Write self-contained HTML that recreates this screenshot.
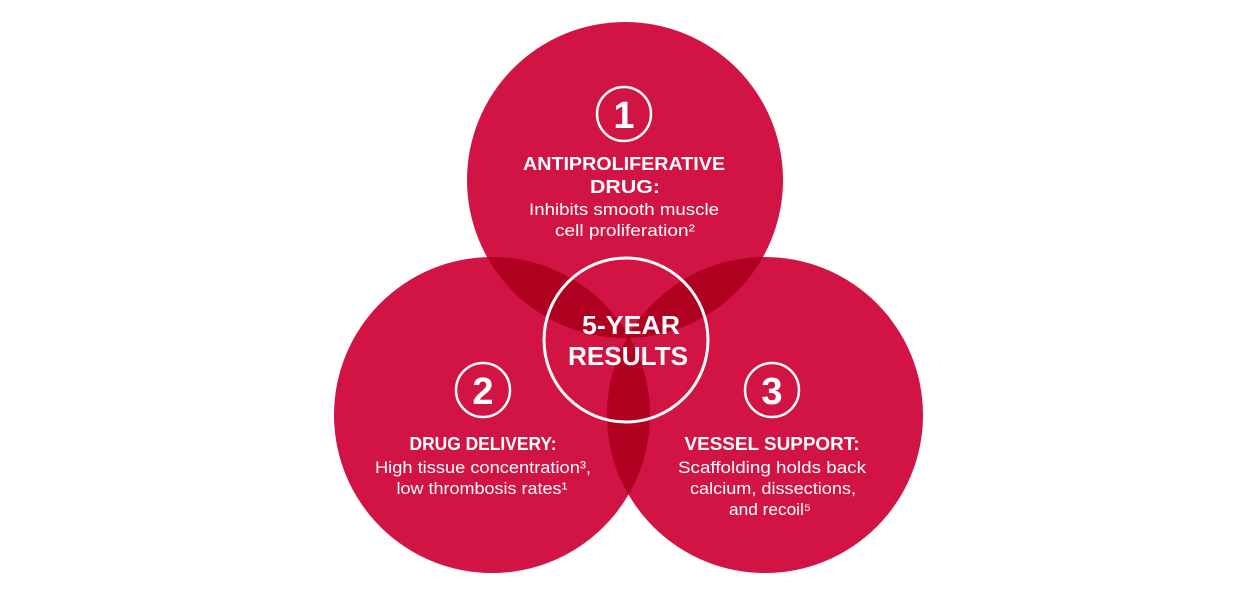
<!DOCTYPE html>
<html><head><style>
body{margin:0;background:#fff;}
svg{display:block;font-family:"Liberation Sans",sans-serif;}
</style></head><body>
<svg width="1257" height="594" viewBox="0 0 1257 594">
<defs>
<clipPath id="cT"><circle cx="625" cy="180" r="158"/></clipPath>
<clipPath id="cL"><circle cx="492" cy="415" r="158"/></clipPath>
</defs>
<g fill="#D11443">
<circle cx="625" cy="180" r="158"/>
<circle cx="492" cy="415" r="158"/>
<circle cx="765" cy="415" r="158"/>
</g>
<g fill="#B0001F">
<g clip-path="url(#cT)"><circle cx="492" cy="415" r="158"/><circle cx="765" cy="415" r="158"/></g>
<g clip-path="url(#cL)"><circle cx="765" cy="415" r="158"/></g>
</g>
<g clip-path="url(#cT)"><g clip-path="url(#cL)"><circle cx="765" cy="415" r="158" fill="#98000F"/></g></g>
<circle cx="626" cy="340" r="82" fill="none" stroke="#fff" stroke-width="3"/>
<g fill="none" stroke="#fff" stroke-width="2.5">
<circle cx="624" cy="114" r="27"/>
<circle cx="483" cy="390" r="27"/>
<circle cx="772" cy="390" r="27"/>
</g>
<g fill="#fff" text-anchor="middle" font-weight="bold" lengthAdjust="spacingAndGlyphs">
<text x="624" y="128" font-size="38">1</text>
<text x="483" y="404" font-size="38">2</text>
<text x="772" y="404" font-size="38">3</text>
<text x="631" y="334" font-size="26" textLength="98" lengthAdjust="spacingAndGlyphs">5-YEAR</text>
<text x="628" y="365" font-size="26" textLength="120" lengthAdjust="spacingAndGlyphs">RESULTS</text>
<text x="624" y="170" font-size="18.5" textLength="202" lengthAdjust="spacingAndGlyphs">ANTIPROLIFERATIVE</text>
<text x="625" y="193" font-size="18.5" textLength="70" lengthAdjust="spacingAndGlyphs">DRUG:</text>
<text x="483" y="450" font-size="18.5" textLength="147" lengthAdjust="spacingAndGlyphs">DRUG DELIVERY:</text>
<text x="772" y="450" font-size="18.5" textLength="175" lengthAdjust="spacingAndGlyphs">VESSEL SUPPORT:</text>
</g>
<g fill="#fff" text-anchor="middle" font-size="17">
<text x="624" y="215" textLength="190" lengthAdjust="spacingAndGlyphs">Inhibits smooth muscle</text>
<text x="625" y="236" textLength="140" lengthAdjust="spacingAndGlyphs">cell proliferation²</text>
<text x="483" y="473" textLength="216" lengthAdjust="spacingAndGlyphs">High tissue concentration³,</text>
<text x="482" y="494" textLength="171" lengthAdjust="spacingAndGlyphs">low thrombosis rates¹</text>
<text x="772" y="473" textLength="188" lengthAdjust="spacingAndGlyphs">Scaffolding holds back</text>
<text x="773" y="494" textLength="166" lengthAdjust="spacingAndGlyphs">calcium, dissections,</text>
<text x="770" y="515" textLength="82" lengthAdjust="spacingAndGlyphs">and recoil⁵</text>
</g>
</svg>
</body></html>
